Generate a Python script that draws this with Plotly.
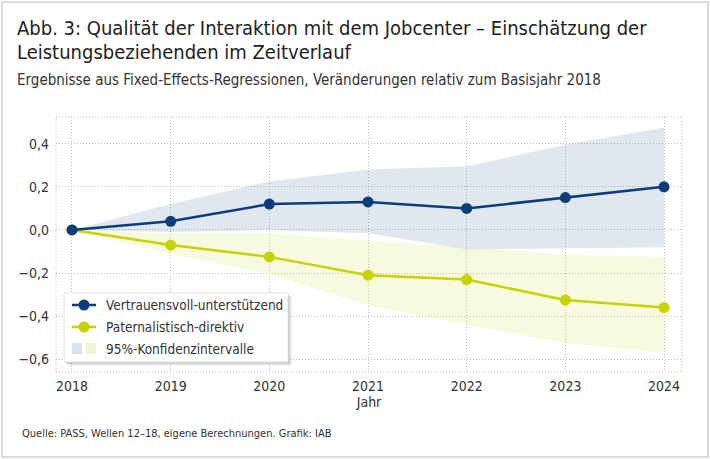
import plotly.graph_objects as go

# values (change vs. base year 2018)
years = [2018, 2019, 2020, 2021, 2022, 2023, 2024]

vertrauen = [0, 0.04, 0.12, 0.13, 0.10, 0.15, 0.20]
vertrauen_lo = [0, -0.01, 0.0, -0.015, -0.09, -0.085, -0.08]
vertrauen_hi = [0, 0.12, 0.225, 0.28, 0.295, 0.395, 0.475]

paternal = [0, -0.07, -0.125, -0.21, -0.23, -0.325, -0.36]
paternal_lo = [0, -0.11, -0.205, -0.35, -0.44, -0.525, -0.57]
paternal_hi = [0, -0.015, -0.015, -0.05, -0.08, -0.115, -0.125]

y_ticks = [0.4, 0.2, 0.0, -0.2, -0.4, -0.6]

BLUE = "#0b3c7c"
YELLOW = "#c6d300"
BLUE_BAND = "rgba(11,60,124,0.12)"
YELLOW_BAND = "rgba(210,222,40,0.15)"
FONT = "DejaVu Sans Condensed, DejaVu Sans, sans-serif"
GRID = "#bcbcbc"
DOTS = "1px,2px"
TXT = "#333333"

W, H = 710, 459
L, R, T, B = 56, 682, 117, 372


def px(x):
    return (x - L) / (R - L)


def py(y):
    return (B - y) / (B - T)


def note(text, x, y, size, color=TXT):
    return dict(text=text, xref="paper", yref="paper", x=px(x), y=py(y),
                xanchor="left", yanchor="middle", showarrow=False,
                font=dict(size=size, color=color, family=FONT))


fig = go.Figure()

# confidence bands
fig.add_trace(go.Scatter(x=years, y=vertrauen_lo, mode="lines", line=dict(width=0),
                         showlegend=False, hoverinfo="skip"))
fig.add_trace(go.Scatter(x=years, y=vertrauen_hi, mode="lines", line=dict(width=0),
                         fill="tonexty", fillcolor=BLUE_BAND, showlegend=False, hoverinfo="skip"))
fig.add_trace(go.Scatter(x=years, y=paternal_lo, mode="lines", line=dict(width=0),
                         showlegend=False, hoverinfo="skip"))
fig.add_trace(go.Scatter(x=years, y=paternal_hi, mode="lines", line=dict(width=0),
                         fill="tonexty", fillcolor=YELLOW_BAND, showlegend=False, hoverinfo="skip"))

# lines
fig.add_trace(go.Scatter(x=years, y=paternal, mode="lines+markers", name="Paternalistisch-direktiv",
                         line=dict(color=YELLOW, width=2.5), marker=dict(color=YELLOW, size=11),
                         showlegend=False))
fig.add_trace(go.Scatter(x=years, y=vertrauen, mode="lines+markers", name="Vertrauensvoll-unterstützend",
                         line=dict(color=BLUE, width=2.5), marker=dict(color=BLUE, size=11),
                         showlegend=False))

shapes = []
# outer frame
shapes.append(dict(type="rect", xref="paper", yref="paper", x0=px(2), x1=px(708), y0=py(2), y1=py(457),
                   line=dict(color="#cfcfcf", width=1.5), layer="below"))
# dotted plot frame
shapes.append(dict(type="rect", xref="paper", yref="paper", x0=0, x1=1, y0=0, y1=1,
                   line=dict(color=GRID, width=1, dash=DOTS), layer="below"))

# legend box with soft shadow
for off, op in [(4, 0.04), (3, 0.06), (2, 0.08), (1, 0.1)]:
    shapes.append(dict(type="rect", xref="paper", yref="paper",
                       x0=px(64 + off), x1=px(288 + off), y0=py(293 + off), y1=py(362 + off),
                       fillcolor="rgba(0,0,0,%s)" % op, line=dict(width=0)))
shapes.append(dict(type="rect", xref="paper", yref="paper", x0=px(64), x1=px(288), y0=py(293), y1=py(362),
                   fillcolor="white", line=dict(color="#e4e4e4", width=1)))

annotations = []
legend_rows = [(305, BLUE, "Vertrauensvoll-unterstützend"), (327, YELLOW, "Paternalistisch-direktiv")]
for yy, col, label in legend_rows:
    shapes.append(dict(type="line", xref="paper", yref="paper", x0=px(72), x1=px(96), y0=py(yy), y1=py(yy),
                       line=dict(color=col, width=2.5)))
    shapes.append(dict(type="circle", xref="paper", yref="paper", x0=px(78.5), x1=px(89.5),
                       y0=py(yy - 5.5), y1=py(yy + 5.5), fillcolor=col, line=dict(width=0)))
    annotations.append(note(label, 104, yy, 13.5))
shapes.append(dict(type="rect", xref="paper", yref="paper", x0=px(72), x1=px(82), y0=py(343), y1=py(354),
                   fillcolor="#d9e1ec", line=dict(width=0)))
shapes.append(dict(type="rect", xref="paper", yref="paper", x0=px(86), x1=px(96), y0=py(343), y1=py(354),
                   fillcolor="#f1f5cf", line=dict(width=0)))
annotations.append(note("95%-Konfidenzintervalle", 104, 348.5, 13.5))

# title, subtitle, source
annotations.append(note("Abb. 3: Qualität der Interaktion mit dem Jobcenter – Einschätzung der", 15, 28, 20, "#222222"))
annotations.append(note("Leistungsbeziehenden im Zeitverlauf", 15, 52, 20, "#222222"))
annotations.append(note("Ergebnisse aus Fixed-Effects-Regressionen, Veränderungen relativ zum Basisjahr 2018", 15, 80, 15))
annotations.append(note("Quelle: PASS, Wellen 12–18, eigene Berechnungen. Grafik: IAB", 20, 433, 11))

fig.update_layout(
    width=W, height=H,
    margin=dict(l=L, r=W - R, t=T, b=H - B),
    paper_bgcolor="white", plot_bgcolor="white",
    separators=",.",
    font=dict(family=FONT, color=TXT, size=14),
    xaxis=dict(range=[2017.838, 2024.182], tickvals=years, ticktext=[str(v) for v in years],
               showgrid=True, gridcolor=GRID, griddash=DOTS, gridwidth=1, zeroline=False,
               showline=False, ticks="", tickfont=dict(size=14), ticklabelstandoff=4,
               title=dict(text="Jahr", font=dict(size=14), standoff=2)),
    yaxis=dict(range=[-0.659, 0.524], tickvals=y_ticks, tickformat=".1f",
               showgrid=True, gridcolor=GRID, griddash=DOTS, gridwidth=1, zeroline=False,
               showline=False, ticks="", tickfont=dict(size=14), ticklabelstandoff=6),
    shapes=shapes,
    annotations=annotations,
    showlegend=False,
)

# page body has a default 8px margin; drop it so the figure fills the window
fig.write_html("out.html", config={"displayModeBar": False},
               post_script="document.body.style.margin='0';")
